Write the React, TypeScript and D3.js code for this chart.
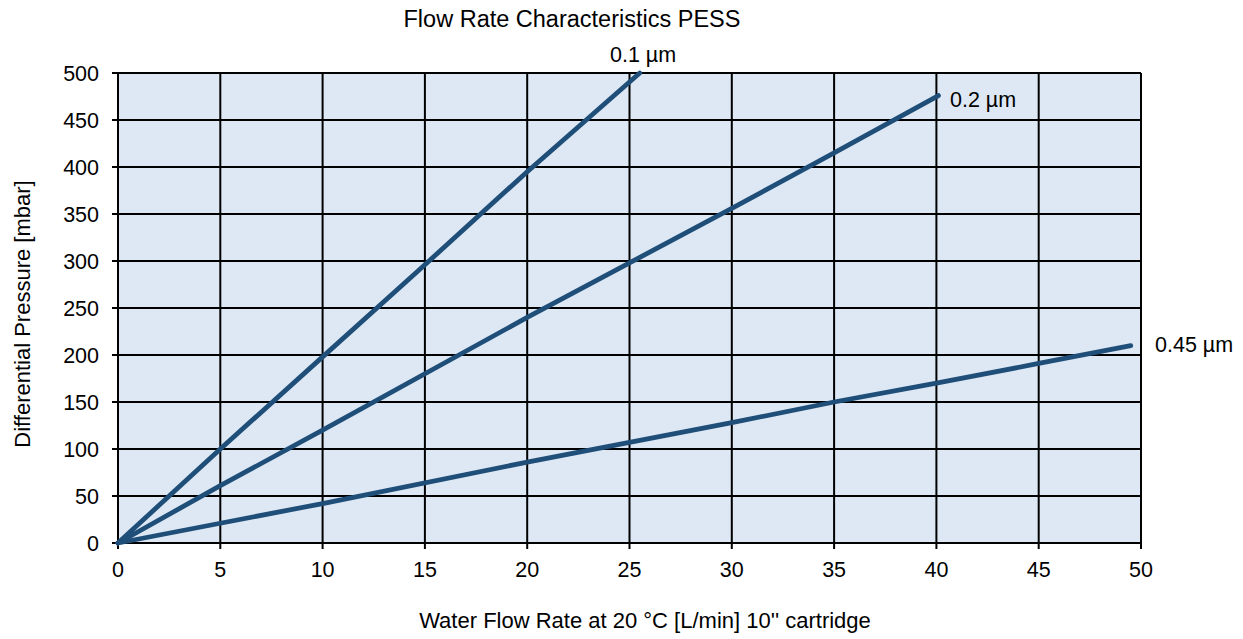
import { useEffect, useRef } from "react";
import * as d3 from "d3";

// values
const xTicks = [0, 5, 10, 15, 20, 25, 30, 35, 40, 45, 50];
const yTicks = [0, 50, 100, 150, 200, 250, 300, 350, 400, 450, 500];

const flow01 = [0, 5, 10, 15, 20, 25.5];
const dp01 = [0, 100, 198, 296, 395, 500];

const flow02 = [0, 5, 10, 20, 25, 30, 35, 40.1];
const dp02 = [0, 61, 120, 240, 298, 356, 415, 476];

const flow045 = [0, 5, 10, 20, 25, 30, 35, 40, 45, 49.5];
const dp045 = [0, 21, 42, 86, 107, 128, 150, 170, 191, 210];

const seriesNames = ["0.1 µm", "0.2 µm", "0.45 µm"];

const W = 1243;
const H = 639;
const margin = { left: 118, right: 102, top: 73, bottom: 96 };
const font = "Liberation Sans, Arial, sans-serif";

export default function App() {
  const ref = useRef<SVGSVGElement>(null);

  useEffect(() => {
    if (!ref.current) return;
    const svg = d3.select(ref.current);
    svg.selectAll("*").remove();

    const x = d3.scaleLinear().domain([0, 50]).range([margin.left, W - margin.right]);
    const y = d3.scaleLinear().domain([0, 500]).range([H - margin.bottom, margin.top]);

    svg
      .append("rect")
      .attr("x", x(0))
      .attr("y", y(500))
      .attr("width", x(50) - x(0))
      .attr("height", y(0) - y(500))
      .attr("fill", "#dde8f4");

    // grid + outward ticks
    svg
      .append("g")
      .selectAll("line")
      .data(xTicks)
      .join("line")
      .attr("x1", (d) => x(d))
      .attr("x2", (d) => x(d))
      .attr("y1", y(500))
      .attr("y2", y(0) + 6)
      .attr("stroke", "#000")
      .attr("stroke-width", 2);

    svg
      .append("g")
      .selectAll("line")
      .data(yTicks)
      .join("line")
      .attr("x1", x(0) - 6)
      .attr("x2", x(50))
      .attr("y1", (d) => y(d))
      .attr("y2", (d) => y(d))
      .attr("stroke", "#000")
      .attr("stroke-width", 2);

    // tick labels
    svg
      .append("g")
      .selectAll("text")
      .data(yTicks)
      .join("text")
      .attr("x", x(0) - 19)
      .attr("y", (d) => y(d))
      .attr("dy", "0.36em")
      .attr("text-anchor", "end")
      .attr("font-family", font)
      .attr("font-size", 21.5)
      .text((d) => d);

    svg
      .append("g")
      .selectAll("text")
      .data(xTicks)
      .join("text")
      .attr("x", (d) => x(d))
      .attr("y", y(0) + 34)
      .attr("text-anchor", "middle")
      .attr("font-family", font)
      .attr("font-size", 21.5)
      .text((d) => d);

    // series
    const series = [
      { xs: flow01, ys: dp01 },
      { xs: flow02, ys: dp02 },
      { xs: flow045, ys: dp045 },
    ];

    series.forEach((s) => {
      const pts: [number, number][] = s.xs.map((v, j) => [x(v), y(s.ys[j])]);
      svg
        .append("path")
        .attr("d", d3.line()(pts))
        .attr("fill", "none")
        .attr("stroke", "#1f4e79")
        .attr("stroke-width", 4.8)
        .attr("stroke-linecap", "round")
        .attr("stroke-linejoin", "round");
    });

    // series labels
    const labelPos = [
      { x: 610, y: 62 },
      { x: 950, y: 107 },
      { x: 1155, y: 352 },
    ];
    seriesNames.forEach((n, i) => {
      svg
        .append("text")
        .attr("x", labelPos[i].x)
        .attr("y", labelPos[i].y)
        .attr("font-family", font)
        .attr("font-size", 21.5)
        .text(n);
    });

    // titles
    svg
      .append("text")
      .attr("x", 572)
      .attr("y", 27)
      .attr("text-anchor", "middle")
      .attr("font-family", font)
      .attr("font-size", 23.5)
      .text("Flow Rate Characteristics PESS");

    svg
      .append("text")
      .attr("x", 645)
      .attr("y", 628)
      .attr("text-anchor", "middle")
      .attr("font-family", font)
      .attr("font-size", 22)
      .text("Water Flow Rate at 20 °C [L/min] 10'' cartridge");

    svg
      .append("text")
      .attr("transform", `translate(30, 314) rotate(-90)`)
      .attr("text-anchor", "middle")
      .attr("font-family", font)
      .attr("font-size", 22)
      .text("Differential Pressure [mbar]");
  }, []);

  return (
    <svg
      ref={ref}
      width={W}
      height={H}
      style={{ position: "absolute", left: 0, top: 0, background: "#fff" }}
    />
  );
}
